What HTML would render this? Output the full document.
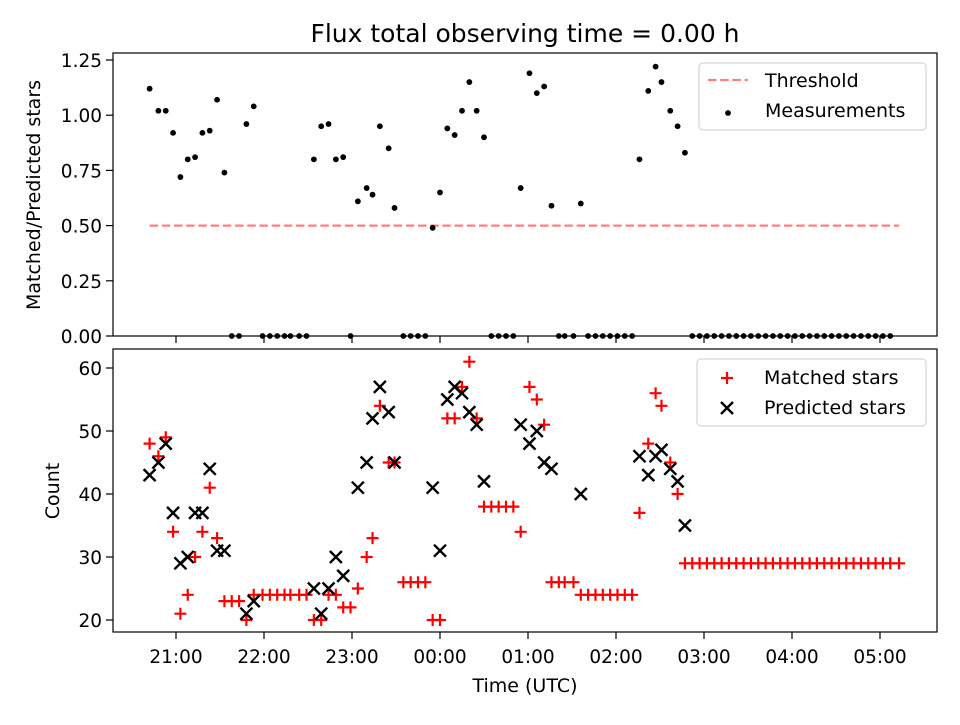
<!DOCTYPE html>
<html><head><meta charset="utf-8"><style>
body{margin:0;background:#fff}
svg{font-family:"DejaVu Sans","Liberation Sans",sans-serif}
</style></head><body>
<svg id="c" width="960" height="720" xmlns="http://www.w3.org/2000/svg">
<rect width="960" height="720" fill="#fff"/>
<text x="525" y="42" font-size="25" text-anchor="middle">Flux total observing time = 0.00 h</text>
<text transform="translate(40,195) rotate(-90)" font-size="19" text-anchor="middle">Matched/Predicted stars</text>
<text transform="translate(59,491) rotate(-90)" font-size="19" text-anchor="middle">Count</text>
<text x="525" y="692" font-size="19" text-anchor="middle">Time (UTC)</text>
<g id="top"></g>
<g id="bot"></g>
</svg>
<script>
const times=[42,48,53,58,63,68,73,78,83,88,93,98,103,108,113,119,124,129,134,138,144,149,154,159,164,169,174,179,184,190,194,199,205,209,215,220,225,230,235,240,245,250,255,260,265,270,275,280,285,290,295,301,306,311,316,321,325,331,336,341,346,351,356,361,366,371,376,382,387,391,397,402,407,412,417,422,427,432,437,442,447,452,457,462,467,472,477,482,487,492,497,502,507,512,517,522,527,532,537,542,547,553];
const ratio=[1.12,1.02,1.02,0.92,0.72,0.80,0.81,0.92,0.93,1.07,0.74,0,0,0.96,1.04,0,0,0,0,0,0,0,0.80,0.95,0.96,0.80,0.81,0,0.61,0.67,0.64,0.95,0.85,0.58,0,0,0,0,0.49,0.65,0.94,0.91,1.02,1.15,1.02,0.90,0,0,0,0,0.67,1.19,1.10,1.13,0.59,0,0,0,0.60,0,0,0,0,0,0,0,0.80,1.11,1.22,1.15,1.02,0.95,0.83,0,0,0,0,0,0,0,0,0,0,0,0,0,0,0,0,0,0,0,0,0,0,0,0,0,0,0,0];
const matched=[48,46,49,34,21,24,30,34,41,33,23,23,23,20,24,24,24,24,24,24,24,24,20,20,24,24,22,22,25,30,33,54,45,45,26,26,26,26,20,20,52,52,57,61,52,38,38,38,38,38,34,57,55,51,26,26,26,26,24,24,24,24,24,24,24,24,37,48,56,54,45,40,29,29,29,29,29,29,29,29,29,29,29,29,29,29,29,29,29,29,29,29,29,29,29,29,29,29,29,29,29,29];
const predicted=[43,45,48,37,29,30,37,37,44,31,31,null,null,21,23,null,null,null,null,null,null,null,25,21,25,30,27,null,41,45,52,57,53,45,null,null,null,null,41,31,55,57,56,53,51,42,null,null,null,null,51,48,50,45,44,null,null,null,40,null,null,null,null,null,null,null,46,43,46,47,44,42,35,null,null,null,null,null,null,null,null,null,null,null,null,null,null,null,null,null,null,null,null,null,null,null,null,null,null,null,null,null];
const topTicks=[0,0.25,0.5,0.75,1.0,1.25];
const topTickLabels=["0.00","0.25","0.50","0.75","1.00","1.25"];
const botTicks=[20,30,40,50,60];
const xTicks=[60,120,180,240,300,360,420,480,540];
const xTickLabels=["21:00","22:00","23:00","00:00","01:00","02:00","03:00","04:00","05:00"];
const threshold=0.5;
const NS="http://www.w3.org/2000/svg";
const X0=113,X1=937;
const xs=t=>88+t*88/60;
const yTop=v=>336-v*220.8;
const yBot=v=>620-(v-20)*6.3;
function mk(p,tag,a,txt){const e=document.createElementNS(NS,tag);for(const k in a)e.setAttribute(k,a[k]);if(txt!==undefined)e.textContent=txt;p.appendChild(e);return e;}
const gTop=document.getElementById('top'),gBot=document.getElementById('bot');
topTicks.forEach((v,i)=>{
 const l=mk(gTop,'line',{x1:X0-7,x2:X0,y1:yTop(v),y2:yTop(v),stroke:'#000','stroke-width':1.2});
 
 
 const t=mk(gTop,'text',{x:X0-11,y:yTop(v)+7,'font-size':18.5,'text-anchor':'end'},topTickLabels[i]);
 
 
});
botTicks.forEach(v=>{
 const l=mk(gBot,'line',{x1:X0-7,x2:X0,y1:yBot(v),y2:yBot(v),stroke:'#000','stroke-width':1.2});
 
 
 const t=mk(gBot,'text',{x:X0-11,y:yBot(v)+7,'font-size':18.5,'text-anchor':'end'},String(v));
 
 
});
xTicks.forEach((v,i)=>{
 const a=mk(gTop,'line',{x1:xs(v),x2:xs(v),y1:336,y2:343,stroke:'#000','stroke-width':1.2});
 
 
 const b=mk(gBot,'line',{x1:xs(v),x2:xs(v),y1:632,y2:639,stroke:'#000','stroke-width':1.2});
 
 
 const t=mk(gBot,'text',{x:xs(v),y:663,'font-size':18.5,'text-anchor':'middle'},xTickLabels[i]);
 
 
});
const th=mk(gTop,'line',{x1:xs(times[0]),x2:xs(times[times.length-1]),y1:yTop(threshold),y2:yTop(threshold),stroke:'#ff7f7f','stroke-width':2.2,'stroke-dasharray':'8.5,3.7'});


times.forEach((t,i)=>{
 if(ratio[i]===undefined)return;
 const c=mk(gTop,'circle',{cx:xs(t),cy:yTop(ratio[i]),r:2.9,fill:'#000'});
 
 
});
times.forEach((t,i)=>{
 if(matched[i]===undefined)return;
 const x=xs(t),y=yBot(matched[i]);
 const p=mk(gBot,'path',{d:`M${x-6},${y}H${x+6}M${x},${y-6}V${y+6}`,stroke:'#f00','stroke-width':2.2,fill:'none'});
 
 
});
times.forEach((t,i)=>{
 if(predicted[i]===null||predicted[i]===undefined)return;
 const x=xs(t),y=yBot(predicted[i]);
 const p=mk(gBot,'path',{d:`M${x-6},${y-6}L${x+6},${y+6}M${x-6},${y+6}L${x+6},${y-6}`,stroke:'#000','stroke-width':2.4,fill:'none'});
 
 
});
const f1=mk(gTop,'rect',{x:X0,y:53,width:X1-X0,height:283,fill:'none',stroke:'#000','stroke-width':1.2});


const f2=mk(gBot,'rect',{x:X0,y:349,width:X1-X0,height:283,fill:'none',stroke:'#000','stroke-width':1.2});


const lg1=mk(gTop,'g',{});


mk(lg1,'rect',{x:699,y:63,width:227,height:67,rx:4,fill:'#fff','fill-opacity':0.8,stroke:'#ccc'});
mk(lg1,'line',{x1:708,x2:748,y1:80,y2:80,stroke:'#ff7f7f','stroke-width':2.2,'stroke-dasharray':'8.5,3.7'});
mk(lg1,'text',{x:765,y:87,'font-size':19},'Threshold');
mk(lg1,'circle',{cx:728,cy:113,r:2.9,fill:'#000'});
mk(lg1,'text',{x:765,y:117,'font-size':19},'Measurements');
const lg2=mk(gBot,'g',{});


mk(lg2,'rect',{x:697,y:359,width:229,height:67,rx:4,fill:'#fff','fill-opacity':0.8,stroke:'#ccc'});
mk(lg2,'path',{d:'M721,378H733M727,372V384',stroke:'#f00','stroke-width':2.2});
mk(lg2,'text',{x:764,y:384,'font-size':19},'Matched stars');
mk(lg2,'path',{d:'M721,402L733,414M721,414L733,402',stroke:'#000','stroke-width':2.4});
mk(lg2,'text',{x:764,y:414,'font-size':19},'Predicted stars');
</script>
</body></html>
